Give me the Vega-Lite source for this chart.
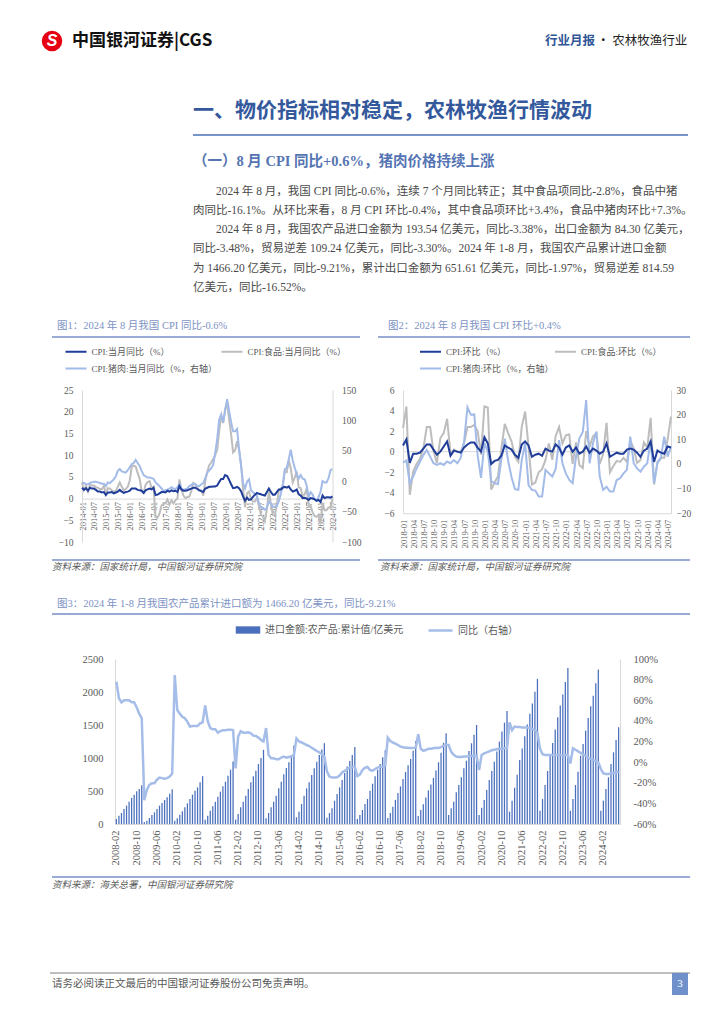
{
"$schema": "https://vega.github.io/schema/vega-lite/v6.json",
"padding": {"left": 0, "top": 30, "right": 0, "bottom": 0},
"background": "white",
"config": {"view": {"stroke": null}, "font": "Liberation Serif, Noto Sans CJK SC", "axis": {"grid": false, "ticks": false, "domainColor": "#d9d9d9", "labelColor": "#595959", "labelFont": "Liberation Serif"}},
"datasets": {
"c1": [
{"m":"2014-01","cpi":2.5,"food":3.7,"pork":-2},{"m":"2014-02","cpi":2.0,"food":2.0,"pork":-3},{"m":"2014-03","cpi":2.4,"food":2.9,"pork":-5},{"m":"2014-04","cpi":1.8,"food":1.6,"pork":-5},{"m":"2014-05","cpi":2.5,"food":3.1,"pork":-3},{"m":"2014-06","cpi":2.3,"food":3.0,"pork":-2},{"m":"2014-07","cpi":2.3,"food":3.0,"pork":-1},{"m":"2014-08","cpi":2.0,"food":2.6,"pork":-1},{"m":"2014-09","cpi":1.6,"food":2.5,"pork":-2},{"m":"2014-10","cpi":1.6,"food":2.2,"pork":-3},{"m":"2014-11","cpi":1.4,"food":2.2,"pork":-4},{"m":"2014-12","cpi":1.5,"food":2.9,"pork":-4},
{"m":"2015-01","cpi":0.8,"food":1.1,"pork":-8},{"m":"2015-02","cpi":1.4,"food":2.4,"pork":-2},{"m":"2015-03","cpi":1.4,"food":2.3,"pork":-3},{"m":"2015-04","cpi":1.5,"food":1.9,"pork":0},{"m":"2015-05","cpi":1.2,"food":1.6,"pork":3},{"m":"2015-06","cpi":1.4,"food":1.7,"pork":8},{"m":"2015-07","cpi":1.6,"food":2.7,"pork":17},{"m":"2015-08","cpi":2.0,"food":3.7,"pork":20},{"m":"2015-09","cpi":1.6,"food":2.7,"pork":16},{"m":"2015-10","cpi":1.3,"food":1.9,"pork":15},{"m":"2015-11","cpi":1.5,"food":2.2,"pork":14},{"m":"2015-12","cpi":1.6,"food":2.7,"pork":18},
{"m":"2016-01","cpi":1.8,"food":4.1,"pork":23},{"m":"2016-02","cpi":2.3,"food":7.3,"pork":28},{"m":"2016-03","cpi":2.3,"food":7.6,"pork":30},{"m":"2016-04","cpi":2.3,"food":7.4,"pork":35},{"m":"2016-05","cpi":2.0,"food":5.9,"pork":30},{"m":"2016-06","cpi":1.9,"food":4.6,"pork":25},{"m":"2016-07","cpi":1.8,"food":1.7,"pork":17},{"m":"2016-08","cpi":1.3,"food":1.3,"pork":10},{"m":"2016-09","cpi":1.9,"food":3.2,"pork":8},{"m":"2016-10","cpi":2.1,"food":3.8,"pork":6},{"m":"2016-11","cpi":2.3,"food":4.0,"pork":6},{"m":"2016-12","cpi":2.1,"food":2.4,"pork":5},
{"m":"2017-01","cpi":2.5,"food":2.7,"pork":4},{"m":"2017-02","cpi":0.8,"food":-4.3,"pork":-2},{"m":"2017-03","cpi":0.9,"food":-4.4,"pork":-5},{"m":"2017-04","cpi":1.2,"food":-3.5,"pork":-8},{"m":"2017-05","cpi":1.5,"food":-1.6,"pork":-12},{"m":"2017-06","cpi":1.5,"food":-1.2,"pork":-16},{"m":"2017-07","cpi":1.4,"food":-1.1,"pork":-15},{"m":"2017-08","cpi":1.8,"food":-0.2,"pork":-14},{"m":"2017-09","cpi":1.6,"food":-1.4,"pork":-12},{"m":"2017-10","cpi":1.9,"food":-0.4,"pork":-10},{"m":"2017-11","cpi":1.7,"food":-1.1,"pork":-12},{"m":"2017-12","cpi":1.8,"food":-0.4,"pork":-13},
{"m":"2018-01","cpi":1.5,"food":0.0,"pork":-10},{"m":"2018-02","cpi":2.9,"food":4.4,"pork":-5},{"m":"2018-03","cpi":2.1,"food":2.1,"pork":-12},{"m":"2018-04","cpi":1.8,"food":0.7,"pork":-14},{"m":"2018-05","cpi":1.8,"food":0.1,"pork":-13},{"m":"2018-06","cpi":1.9,"food":0.3,"pork":-12},{"m":"2018-07","cpi":2.1,"food":0.5,"pork":-8},{"m":"2018-08","cpi":2.3,"food":1.7,"pork":-6},{"m":"2018-09","cpi":2.5,"food":3.6,"pork":-4},{"m":"2018-10","cpi":2.5,"food":3.3,"pork":-5},{"m":"2018-11","cpi":2.2,"food":2.5,"pork":-8},{"m":"2018-12","cpi":1.9,"food":1.9,"pork":-8},
{"m":"2019-01","cpi":1.7,"food":1.9,"pork":-5},{"m":"2019-02","cpi":1.5,"food":0.7,"pork":-3},{"m":"2019-03","cpi":2.3,"food":4.1,"pork":5},{"m":"2019-04","cpi":2.5,"food":6.1,"pork":14},{"m":"2019-05","cpi":2.7,"food":7.7,"pork":18},{"m":"2019-06","cpi":2.7,"food":8.3,"pork":21},{"m":"2019-07","cpi":2.8,"food":9.1,"pork":27},{"m":"2019-08","cpi":2.8,"food":10.0,"pork":47},{"m":"2019-09","cpi":3.0,"food":11.2,"pork":69},{"m":"2019-10","cpi":3.8,"food":15.5,"pork":101},{"m":"2019-11","cpi":4.5,"food":19.1,"pork":110},{"m":"2019-12","cpi":4.5,"food":17.4,"pork":97},
{"m":"2020-01","cpi":5.4,"food":20.6,"pork":116},{"m":"2020-02","cpi":5.2,"food":21.9,"pork":135},{"m":"2020-03","cpi":4.3,"food":18.3,"pork":116},{"m":"2020-04","cpi":3.3,"food":14.8,"pork":97},{"m":"2020-05","cpi":2.4,"food":10.6,"pork":82},{"m":"2020-06","cpi":2.5,"food":11.1,"pork":82},{"m":"2020-07","cpi":2.7,"food":13.2,"pork":86},{"m":"2020-08","cpi":2.4,"food":11.2,"pork":53},{"m":"2020-09","cpi":1.7,"food":7.9,"pork":26},{"m":"2020-10","cpi":0.5,"food":2.2,"pork":-3},{"m":"2020-11","cpi":-0.5,"food":-2.0,"pork":-12},{"m":"2020-12","cpi":0.2,"food":1.2,"pork":-1},
{"m":"2021-01","cpi":-0.3,"food":1.6,"pork":3},{"m":"2021-02","cpi":-0.2,"food":-0.2,"pork":-15},{"m":"2021-03","cpi":0.4,"food":-0.7,"pork":-18},{"m":"2021-04","cpi":0.9,"food":-0.7,"pork":-21},{"m":"2021-05","cpi":1.3,"food":0.3,"pork":-24},{"m":"2021-06","cpi":1.1,"food":-1.7,"pork":-36},{"m":"2021-07","cpi":1.0,"food":-3.7,"pork":-43},{"m":"2021-08","cpi":0.8,"food":-4.1,"pork":-45},{"m":"2021-09","cpi":0.7,"food":-5.2,"pork":-47},{"m":"2021-10","cpi":1.5,"food":-2.4,"pork":-44},{"m":"2021-11","cpi":2.3,"food":1.6,"pork":-33},{"m":"2021-12","cpi":1.5,"food":-1.2,"pork":-37},
{"m":"2022-01","cpi":0.9,"food":-3.8,"pork":-42},{"m":"2022-02","cpi":0.9,"food":-3.9,"pork":-42},{"m":"2022-03","cpi":1.5,"food":-1.5,"pork":-41},{"m":"2022-04","cpi":2.1,"food":1.9,"pork":-33},{"m":"2022-05","cpi":2.1,"food":2.3,"pork":-21},{"m":"2022-06","cpi":2.5,"food":2.9,"pork":-6},{"m":"2022-07","cpi":2.7,"food":6.3,"pork":20},{"m":"2022-08","cpi":2.5,"food":6.1,"pork":22},{"m":"2022-09","cpi":2.8,"food":8.8,"pork":36},{"m":"2022-10","cpi":2.1,"food":7.0,"pork":52},{"m":"2022-11","cpi":1.6,"food":3.7,"pork":34},{"m":"2022-12","cpi":1.8,"food":4.8,"pork":22},
{"m":"2023-01","cpi":2.1,"food":6.2,"pork":12},{"m":"2023-02","cpi":1.0,"food":2.6,"pork":4},{"m":"2023-03","cpi":0.7,"food":2.4,"pork":10},{"m":"2023-04","cpi":0.1,"food":0.4,"pork":4},{"m":"2023-05","cpi":0.2,"food":1.0,"pork":3},{"m":"2023-06","cpi":0.0,"food":2.3,"pork":-7},{"m":"2023-07","cpi":-0.3,"food":-1.7,"pork":-26},{"m":"2023-08","cpi":0.1,"food":-1.7,"pork":-18},{"m":"2023-09","cpi":0.0,"food":-3.2,"pork":-22},{"m":"2023-10","cpi":-0.2,"food":-4.0,"pork":-30},{"m":"2023-11","cpi":-0.5,"food":-4.2,"pork":-32},{"m":"2023-12","cpi":-0.3,"food":-3.7,"pork":-26},
{"m":"2024-01","cpi":-0.8,"food":-5.9,"pork":-17},{"m":"2024-02","cpi":0.7,"food":-0.9,"pork":0},{"m":"2024-03","cpi":0.1,"food":-2.7,"pork":-2},{"m":"2024-04","cpi":0.3,"food":-2.7,"pork":-2},{"m":"2024-05","cpi":0.3,"food":-2.0,"pork":5},{"m":"2024-06","cpi":0.2,"food":-2.1,"pork":18},{"m":"2024-07","cpi":0.5,"food":0.0,"pork":20}
],
"c2": [
{"m":"2018-01","cpi":0.6,"food":2.3,"pork":0.5},{"m":"2018-02","cpi":1.2,"food":4.4,"pork":1.4},{"m":"2018-03","cpi":-1.1,"food":-4.2,"pork":-7.8},{"m":"2018-04","cpi":-0.2,"food":-1.9,"pork":-5.1},{"m":"2018-05","cpi":-0.2,"food":-1.2,"pork":-1.8},{"m":"2018-06","cpi":-0.1,"food":-0.7,"pork":0.9},{"m":"2018-07","cpi":0.3,"food":0.3,"pork":3.6},{"m":"2018-08","cpi":0.7,"food":2.4,"pork":5.7},{"m":"2018-09","cpi":0.7,"food":2.4,"pork":3.0},{"m":"2018-10","cpi":0.2,"food":0.0,"pork":0.3},{"m":"2018-11","cpi":-0.3,"food":-1.1,"pork":-0.4},{"m":"2018-12","cpi":0.0,"food":1.3,"pork":0.3},
{"m":"2019-01","cpi":0.5,"food":1.8,"pork":-0.4},{"m":"2019-02","cpi":1.0,"food":3.2,"pork":1.0},{"m":"2019-03","cpi":-0.4,"food":-0.2,"pork":0.3},{"m":"2019-04","cpi":0.1,"food":0.2,"pork":1.6},{"m":"2019-05","cpi":0.0,"food":0.0,"pork":0.3},{"m":"2019-06","cpi":-0.1,"food":0.0,"pork":2.4},{"m":"2019-07","cpi":0.4,"food":0.8,"pork":9.0},{"m":"2019-08","cpi":0.7,"food":2.4,"pork":23.0},{"m":"2019-09","cpi":0.9,"food":2.4,"pork":20.0},{"m":"2019-10","cpi":0.9,"food":2.6,"pork":20.1},{"m":"2019-11","cpi":0.4,"food":2.0,"pork":3.5},{"m":"2019-12","cpi":0.0,"food":-0.3,"pork":-5.6},
{"m":"2020-01","cpi":1.4,"food":4.4,"pork":8.5},{"m":"2020-02","cpi":0.8,"food":4.3,"pork":5.0},{"m":"2020-03","cpi":-1.2,"food":-3.7,"pork":-6.9},{"m":"2020-04","cpi":-0.9,"food":-3.0,"pork":-7.8},{"m":"2020-05","cpi":-0.8,"food":-2.4,"pork":-8.1},{"m":"2020-06","cpi":-0.4,"food":0.3,"pork":2.0},{"m":"2020-07","cpi":0.6,"food":2.7,"pork":10.3},{"m":"2020-08","cpi":0.4,"food":1.8,"pork":1.2},{"m":"2020-09","cpi":0.2,"food":1.0,"pork":-5.4},{"m":"2020-10","cpi":-0.3,"food":-0.5,"pork":-10.2},{"m":"2020-11","cpi":-0.6,"food":-1.0,"pork":-10.5},{"m":"2020-12","cpi":0.7,"food":2.4,"pork":1.6},
{"m":"2021-01","cpi":1.0,"food":3.9,"pork":8.4},{"m":"2021-02","cpi":0.6,"food":0.5,"pork":-8.6},{"m":"2021-03","cpi":-0.5,"food":-3.2,"pork":-10.5},{"m":"2021-04","cpi":-0.3,"food":-3.0,"pork":-10.8},{"m":"2021-05","cpi":-0.2,"food":-2.0,"pork":-13.2},{"m":"2021-06","cpi":-0.4,"food":-1.7,"pork":-13.2},{"m":"2021-07","cpi":0.3,"food":-0.8,"pork":-2.4},{"m":"2021-08","cpi":0.1,"food":0.8,"pork":-3.8},{"m":"2021-09","cpi":0.0,"food":-0.8,"pork":-5.1},{"m":"2021-10","cpi":0.7,"food":1.5,"pork":-2.0},{"m":"2021-11","cpi":0.4,"food":2.4,"pork":9.7},{"m":"2021-12","cpi":-0.3,"food":0.8,"pork":0.3},
{"m":"2022-01","cpi":0.4,"food":1.6,"pork":-3.8},{"m":"2022-02","cpi":0.6,"food":1.7,"pork":-6.5},{"m":"2022-03","cpi":0.0,"food":-1.2,"pork":-7.8},{"m":"2022-04","cpi":0.4,"food":0.9,"pork":3.0},{"m":"2022-05","cpi":-0.2,"food":-1.3,"pork":10.4},{"m":"2022-06","cpi":0.0,"food":-1.6,"pork":13.0},{"m":"2022-07","cpi":0.5,"food":2.0,"pork":25.9},{"m":"2022-08","cpi":-0.1,"food":0.5,"pork":0.3},{"m":"2022-09","cpi":0.3,"food":1.5,"pork":8.4},{"m":"2022-10","cpi":0.1,"food":1.8,"pork":13.1},{"m":"2022-11","cpi":-0.2,"food":-1.2,"pork":-5.1},{"m":"2022-12","cpi":0.0,"food":-0.2,"pork":-10.5},
{"m":"2023-01","cpi":0.8,"food":2.8,"pork":-9.2},{"m":"2023-02","cpi":-0.5,"food":-2.0,"pork":-11.2},{"m":"2023-03","cpi":-0.3,"food":-1.4,"pork":-11.2},{"m":"2023-04","cpi":-0.1,"food":-0.9,"pork":-6.5},{"m":"2023-05","cpi":-0.2,"food":-1.0,"pork":-5.8},{"m":"2023-06","cpi":-0.2,"food":-0.6,"pork":-3.8},{"m":"2023-07","cpi":0.2,"food":-1.0,"pork":-2.4},{"m":"2023-08","cpi":0.3,"food":1.1,"pork":11.1},{"m":"2023-09","cpi":0.2,"food":0.3,"pork":0.3},{"m":"2023-10","cpi":-0.1,"food":-1.1,"pork":-1.8},{"m":"2023-11","cpi":-0.5,"food":-0.8,"pork":-3.1},{"m":"2023-12","cpi":0.1,"food":0.9,"pork":-1.1},
{"m":"2024-01","cpi":0.3,"food":0.4,"pork":0.3},{"m":"2024-02","cpi":1.0,"food":3.3,"pork":9.7},{"m":"2024-03","cpi":-1.0,"food":-3.2,"pork":-7.8},{"m":"2024-04","cpi":0.1,"food":-1.0,"pork":0.3},{"m":"2024-05","cpi":-0.1,"food":-0.6,"pork":2.3},{"m":"2024-06","cpi":-0.2,"food":-0.6,"pork":11.1},{"m":"2024-07","cpi":0.5,"food":1.2,"pork":3.0},{"m":"2024-08","cpi":0.4,"food":3.4,"pork":7.0}
],
"c3": [
{"m":"2008-02","v":76,"y":78},{"m":"2008-03","v":126,"y":62},{"m":"2008-04","v":167,"y":58},{"m":"2008-05","v":227,"y":60},{"m":"2008-06","v":278,"y":60},{"m":"2008-07","v":338,"y":60},{"m":"2008-08","v":394,"y":58},{"m":"2008-09","v":444,"y":58},{"m":"2008-10","v":495,"y":53},{"m":"2008-11","v":530,"y":47},{"m":"2008-12","v":587,"y":42.5},
{"m":"2009-01","v":30,"y":-37},{"m":"2009-02","v":50,"y":-27},{"m":"2009-03","v":91,"y":-22},{"m":"2009-04","v":136,"y":-20.5},{"m":"2009-05","v":177,"y":-20.5},{"m":"2009-06","v":227,"y":-17},{"m":"2009-07","v":278,"y":-15},{"m":"2009-08","v":318,"y":-15.5},{"m":"2009-09","v":364,"y":-16},{"m":"2009-10","v":404,"y":-15.5},{"m":"2009-11","v":460,"y":-14},{"m":"2009-12","v":527,"y":-11},
{"m":"2010-01","v":50,"y":84.5},{"m":"2010-02","v":86,"y":50.5},{"m":"2010-03","v":141,"y":47},{"m":"2010-04","v":192,"y":44},{"m":"2010-05","v":253,"y":42.5},{"m":"2010-06","v":313,"y":39},{"m":"2010-07","v":379,"y":34.5},{"m":"2010-08","v":444,"y":35},{"m":"2010-09","v":505,"y":35},{"m":"2010-10","v":555,"y":35},{"m":"2010-11","v":631,"y":37.6},{"m":"2010-12","v":725,"y":38.6},
{"m":"2011-01","v":66,"y":55},{"m":"2011-02","v":126,"y":40},{"m":"2011-03","v":202,"y":33},{"m":"2011-04","v":268,"y":32},{"m":"2011-05","v":338,"y":32},{"m":"2011-06","v":414,"y":28.6},{"m":"2011-07","v":490,"y":30},{"m":"2011-08","v":571,"y":31},{"m":"2011-09","v":641,"y":31},{"m":"2011-10","v":732,"y":31.5},{"m":"2011-11","v":823,"y":31.5},{"m":"2011-12","v":948,"y":31},
{"m":"2012-01","v":66,"y":-6},{"m":"2012-02","v":152,"y":24.7},{"m":"2012-03","v":253,"y":30},{"m":"2012-04","v":338,"y":28.6},{"m":"2012-05","v":429,"y":28.6},{"m":"2012-06","v":530,"y":29},{"m":"2012-07","v":631,"y":28},{"m":"2012-08","v":722,"y":25.7},{"m":"2012-09","v":808,"y":25.4},{"m":"2012-10","v":909,"y":23.8},{"m":"2012-11","v":1000,"y":21.5},{"m":"2012-12","v":1124,"y":20},
{"m":"2013-01","v":86,"y":33},{"m":"2013-02","v":167,"y":7},{"m":"2013-03","v":253,"y":3.7},{"m":"2013-04","v":338,"y":3.7},{"m":"2013-05","v":429,"y":2.7},{"m":"2013-06","v":540,"y":2.7},{"m":"2013-07","v":641,"y":4.4},{"m":"2013-08","v":752,"y":5.4},{"m":"2013-09","v":848,"y":4.4},{"m":"2013-10","v":934,"y":5},{"m":"2013-11","v":1045,"y":5.4},{"m":"2013-12","v":1189,"y":7},
{"m":"2014-01","v":101,"y":23},{"m":"2014-02","v":187,"y":20},{"m":"2014-03","v":303,"y":19},{"m":"2014-04","v":429,"y":18},{"m":"2014-05","v":540,"y":16.6},{"m":"2014-06","v":631,"y":15.6},{"m":"2014-07","v":742,"y":14},{"m":"2014-08","v":843,"y":12.4},{"m":"2014-09","v":944,"y":10.8},{"m":"2014-10","v":1045,"y":9.5},{"m":"2014-11","v":1130,"y":7.6},{"m":"2014-12","v":1225,"y":5.4},
{"m":"2015-01","v":95,"y":-9},{"m":"2015-02","v":167,"y":-14},{"m":"2015-03","v":237,"y":-15},{"m":"2015-04","v":353,"y":-15},{"m":"2015-05","v":454,"y":-14.7},{"m":"2015-06","v":555,"y":-13},{"m":"2015-07","v":666,"y":-10},{"m":"2015-08","v":772,"y":-8.5},{"m":"2015-09","v":873,"y":-6.7},{"m":"2015-10","v":954,"y":-5.4},{"m":"2015-11","v":1045,"y":-5},{"m":"2015-12","v":1168,"y":-4.4},
{"m":"2016-01","v":76,"y":-13.5},{"m":"2016-02","v":136,"y":-12},{"m":"2016-03","v":212,"y":-7.7},{"m":"2016-04","v":303,"y":-5.4},{"m":"2016-05","v":379,"y":-4.7},{"m":"2016-06","v":505,"y":-7.7},{"m":"2016-07","v":611,"y":-8.3},{"m":"2016-08","v":722,"y":-6.7},{"m":"2016-09","v":823,"y":-5.4},{"m":"2016-10","v":910,"y":-4.4},{"m":"2016-11","v":1010,"y":-4.4},{"m":"2016-12","v":1116,"y":-3.4},
{"m":"2017-01","v":90,"y":23.8},{"m":"2017-02","v":165,"y":20.5},{"m":"2017-03","v":260,"y":19},{"m":"2017-04","v":365,"y":18},{"m":"2017-05","v":470,"y":16.6},{"m":"2017-06","v":570,"y":15},{"m":"2017-07","v":680,"y":14.5},{"m":"2017-08","v":790,"y":14},{"m":"2017-09","v":890,"y":14},{"m":"2017-10","v":985,"y":13.7},{"m":"2017-11","v":1110,"y":13.7},{"m":"2017-12","v":1258,"y":14},
{"m":"2018-01","v":120,"y":27},{"m":"2018-02","v":212,"y":13},{"m":"2018-03","v":300,"y":11},{"m":"2018-04","v":400,"y":11.7},{"m":"2018-05","v":510,"y":13},{"m":"2018-06","v":600,"y":13},{"m":"2018-07","v":700,"y":13.5},{"m":"2018-08","v":810,"y":14},{"m":"2018-09","v":935,"y":13.7},{"m":"2018-10","v":1080,"y":14.5},{"m":"2018-11","v":1230,"y":16},{"m":"2018-12","v":1374,"y":16.6},
{"m":"2019-01","v":136,"y":16.6},{"m":"2019-02","v":238,"y":10},{"m":"2019-03","v":339,"y":7},{"m":"2019-04","v":480,"y":5.5},{"m":"2019-05","v":591,"y":5},{"m":"2019-06","v":708,"y":5},{"m":"2019-07","v":844,"y":5.5},{"m":"2019-08","v":960,"y":5.5},{"m":"2019-09","v":1106,"y":5.5},{"m":"2019-10","v":1223,"y":6},{"m":"2019-11","v":1354,"y":6},{"m":"2019-12","v":1500,"y":6.3},
{"m":"2020-01","v":136,"y":-7.7},{"m":"2020-02","v":248,"y":7},{"m":"2020-03","v":364,"y":8.5},{"m":"2020-04","v":515,"y":9.5},{"m":"2020-05","v":667,"y":10.5},{"m":"2020-06","v":803,"y":11.5},{"m":"2020-07","v":945,"y":12},{"m":"2020-08","v":1097,"y":12.5},{"m":"2020-09","v":1248,"y":13},{"m":"2020-10","v":1400,"y":13},{"m":"2020-11","v":1536,"y":13.4},{"m":"2020-12","v":1712,"y":13.5},
{"m":"2021-01","v":187,"y":38.6},{"m":"2021-02","v":352,"y":31},{"m":"2021-03","v":550,"y":34.5},{"m":"2021-04","v":748,"y":34},{"m":"2021-05","v":968,"y":34},{"m":"2021-06","v":1144,"y":33.5},{"m":"2021-07","v":1331,"y":33.5},{"m":"2021-08","v":1507,"y":33.5},{"m":"2021-09","v":1672,"y":33},{"m":"2021-10","v":1826,"y":32},{"m":"2021-11","v":2002,"y":31},{"m":"2021-12","v":2200,"y":28.5},
{"m":"2022-01","v":201,"y":13},{"m":"2022-02","v":378,"y":7.6},{"m":"2022-03","v":591,"y":7},{"m":"2022-04","v":803,"y":7},{"m":"2022-05","v":1040,"y":7},{"m":"2022-06","v":1229,"y":7},{"m":"2022-07","v":1430,"y":7},{"m":"2022-08","v":1619,"y":7},{"m":"2022-09","v":1796,"y":6.8},{"m":"2022-10","v":1961,"y":6.5},{"m":"2022-11","v":2150,"y":6.8},{"m":"2022-12","v":2363,"y":7},
{"m":"2023-01","v":200,"y":-1.3},{"m":"2023-02","v":379,"y":13.4},{"m":"2023-03","v":591,"y":12},{"m":"2023-04","v":793,"y":10.5},{"m":"2023-05","v":1035,"y":9},{"m":"2023-06","v":1212,"y":7.5},{"m":"2023-07","v":1414,"y":6},{"m":"2023-08","v":1606,"y":4.5},{"m":"2023-09","v":1783,"y":3},{"m":"2023-10","v":1944,"y":2},{"m":"2023-11","v":2131,"y":1},{"m":"2023-12","v":2342,"y":0},
{"m":"2024-01","v":200,"y":-6.7},{"m":"2024-02","v":354,"y":-11},{"m":"2024-03","v":530,"y":-11.5},{"m":"2024-04","v":707,"y":-11.5},{"m":"2024-05","v":909,"y":-11},{"m":"2024-06","v":1086,"y":-10.5},{"m":"2024-07","v":1273,"y":-10},{"m":"2024-08","v":1466,"y":-9.2}
]
},
"spacing": 0,
"bounds": "flush",
"vconcat": [
{"hconcat": [
  {"width": 38, "height": 20, "data": {"values": []}, "mark": "point"},
  {"width": 28, "height": 20, "data": {"values": [{"t": "S"}]}, "layer": [
    {"mark": {"type": "point", "shape": "circle", "filled": true, "color": "#e60012", "size": 420, "opacity": 1}},
    {"mark": {"type": "text", "color": "white", "fontSize": 16, "fontWeight": "bold", "fontStyle": "italic", "font": "Liberation Sans"}, "encoding": {"text": {"field": "t"}}}
  ]},
  {"width": 6, "height": 20, "data": {"values": []}, "mark": "point"},
  {"width": 473, "height": 20, "data": {"values": [{"t": "中国银河证券|CGS"}]}, "mark": {"type": "text", "align": "left", "baseline": "middle", "font": "Noto Sans CJK SC", "fontSize": 17, "fontWeight": "bold", "color": "#111111"}, "encoding": {"text": {"field": "t"}, "x": {"datum": 0, "type": "quantitative", "scale": {"domain": [0, 1]}, "axis": null}}},
  {"width": 52, "height": 20, "data": {"values": [{"t": "行业月报"}]}, "mark": {"type": "text", "align": "left", "baseline": "middle", "font": "Noto Sans CJK SC", "fontSize": 12.5, "fontWeight": "bold", "color": "#2f5597"}, "encoding": {"text": {"field": "t"}, "x": {"datum": 0, "type": "quantitative", "scale": {"domain": [0, 1]}, "axis": null}}},
  {"width": 93, "height": 20, "data": {"values": [{"t": "· 农林牧渔行业"}]}, "mark": {"type": "text", "align": "left", "baseline": "middle", "font": "Noto Sans CJK SC", "fontSize": 12.5, "color": "#222222"}, "encoding": {"text": {"field": "t"}, "x": {"datum": 0, "type": "quantitative", "scale": {"domain": [0, 1]}, "axis": null}}}
], "spacing": 0, "bounds": "flush"},
{"width": 1, "height": 66, "data": {"values": []}, "mark": "point"},
{"hconcat": [
  {"width": 193, "height": 28, "data": {"values": []}, "mark": "point"},
  {"width": 495, "height": 28, "data": {"values": [{"t": "一、物价指标相对稳定，农林牧渔行情波动"}]}, "mark": {"type": "text", "align": "left", "baseline": "middle", "font": "Noto Sans CJK SC", "fontSize": 21, "fontWeight": "bold", "color": "#34589c"}, "encoding": {"text": {"field": "t"}, "x": {"datum": 0, "type": "quantitative", "scale": {"domain": [0, 1]}, "axis": null}}}
], "spacing": 0, "bounds": "flush"},
{"width": 1, "height": 36.5, "data": {"values": []}, "mark": "point"},
{"hconcat": [
  {"width": 193, "height": 1, "data": {"values": []}, "mark": "point"},
  {"width": 495, "height": 1, "data": {"values": [{}]}, "mark": {"type": "rule", "color": "#4a70b6", "strokeWidth": 1.5}, "encoding": {"y": {"datum": 0, "type": "quantitative", "scale": {"domain": [0, 1]}, "axis": null}}}
], "spacing": 0, "bounds": "flush"},
{"width": 1, "height": 17.5, "data": {"values": []}, "mark": "point"},
{"hconcat": [
  {"width": 193, "height": 20, "data": {"values": []}, "mark": "point"},
  {"width": 495, "height": 20, "data": {"values": [{"t": "（一）8 月 CPI 同比+0.6%，猪肉价格持续上涨"}]}, "mark": {"type": "text", "align": "left", "baseline": "middle", "fontSize": 14.5, "fontWeight": "bold", "color": "#5574b3"}, "encoding": {"text": {"field": "t"}, "x": {"datum": 0, "type": "quantitative", "scale": {"domain": [0, 1]}, "axis": null}}}
], "spacing": 0, "bounds": "flush"},
{"width": 1, "height": 29.4, "data": {"values": []}, "mark": "point"},
{"hconcat": [
  {"width": 193, "height": 115.6, "data": {"values": []}, "mark": "point"},
  {"width": 495, "height": 115.6, "data": {"values": [
    {"i": 1, "t": "\u200b\u3000\u30002024 年 8 月，我国 CPI 同比-0.6%，连续 7 个月同比转正；其中食品项同比-2.8%，食品中猪"},
    {"i": 2, "t": "肉同比-16.1%。从环比来看，8 月 CPI 环比-0.4%，其中食品项环比+3.4%，食品中猪肉环比+7.3%。"},
    {"i": 3, "t": "\u200b\u3000\u30002024 年 8 月，我国农产品进口金额为 193.54 亿美元，同比-3.38%，出口金额为 84.30 亿美元，"},
    {"i": 4, "t": "同比-3.48%，贸易逆差 109.24 亿美元，同比-3.30%。2024 年 1-8 月，我国农产品累计进口金额"},
    {"i": 5, "t": "为 1466.20 亿美元，同比-9.21%，累计出口金额为 651.61 亿美元，同比-1.97%，贸易逆差 814.59"},
    {"i": 6, "t": "亿美元，同比-16.52%。"}
  ]}, "mark": {"type": "text", "align": "left", "baseline": "middle", "fontSize": 11.5, "color": "#4a4a4a"}, "encoding": {"text": {"field": "t"}, "y": {"field": "i", "type": "ordinal", "axis": null}, "x": {"datum": 0, "type": "quantitative", "scale": {"domain": [0, 1]}, "axis": null}}}
], "spacing": 0, "bounds": "flush"},
{"width": 1, "height": 135.6, "data": {"values": []}, "mark": "point"},
{"hconcat": [
  {"width": 57, "height": 16, "data": {"values": []}, "mark": "point"},
  {"width": 331, "height": 16, "data": {"values": [{"t": "图1：2024 年 8 月我国 CPI 同比-0.6%"}]}, "mark": {"type": "text", "align": "left", "baseline": "middle", "fontSize": 10.5, "color": "#7d92c4"}, "encoding": {"text": {"field": "t"}, "x": {"datum": 0, "type": "quantitative", "scale": {"domain": [0, 1]}, "axis": null}}},
  {"width": 302, "height": 16, "data": {"values": [{"t": "图2：2024 年 8 月我国 CPI 环比+0.4%"}]}, "mark": {"type": "text", "align": "left", "baseline": "middle", "fontSize": 10.5, "color": "#7d92c4"}, "encoding": {"text": {"field": "t"}, "x": {"datum": 0, "type": "quantitative", "scale": {"domain": [0, 1]}, "axis": null}}}
], "spacing": 0, "bounds": "flush"},
{"width": 1, "height": 18, "data": {"values": []}, "mark": "point"},
{"hconcat": [
  {"width": 52, "height": 1, "data": {"values": []}, "mark": "point"},
  {"width": 308, "height": 1, "data": {"values": [{}]}, "mark": {"type": "rule", "color": "#9aabd3", "strokeWidth": 2}, "encoding": {"y": {"datum": 0, "type": "quantitative", "scale": {"domain": [0, 1]}, "axis": null}}},
  {"width": 18, "height": 1, "data": {"values": []}, "mark": "point"},
  {"width": 312, "height": 1, "data": {"values": [{}]}, "mark": {"type": "rule", "color": "#9aabd3", "strokeWidth": 2}, "encoding": {"y": {"datum": 0, "type": "quantitative", "scale": {"domain": [0, 1]}, "axis": null}}}
], "spacing": 0, "bounds": "flush"},
{"width": 1, "height": 54, "data": {"values": []}, "mark": "point"},
{"hconcat": [
  {"width": 81.5, "height": 152, "data": {"values": []}, "mark": "point"},
  {"width": 250.5, "height": 152, "data": {"name": "c1"},
   "layer": [
    {"mark": {"type": "line", "strokeWidth": 2}, "encoding": {
      "x": {"field": "m", "type": "ordinal", "scale": {"type": "point", "padding": 0}, "axis": {"values": ["2014-01","2014-07","2015-01","2015-07","2016-01","2016-07","2017-01","2017-07","2018-01","2018-07","2019-01","2019-07","2020-01","2020-07","2021-01","2021-07","2022-01","2022-07","2023-01","2023-07","2024-01","2024-07"], "labelAngle": -90, "offset": -43.4, "labelFontSize": 8.5, "labelPadding": 3, "title": null, "labelOverlap": false}},
      "y": {"field": "food", "type": "quantitative", "scale": {"domain": [-10, 25]}, "axis": {"values": [-10,-5,0,5,10,15,20,25], "labelFontSize": 9.5, "labelPadding": 9, "title": null}},
      "color": {"datum": "CPI:食品:当月同比（%）", "type": "nominal", "scale": {"domain": ["CPI:当月同比（%）", "CPI:食品:当月同比（%）", "CPI:猪肉:当月同比（%，右轴）"], "range": ["#1f3d99", "#bdbdbd", "#a3bbe8"]}, "legend": {"orient": "none", "legendX": -17.5, "legendY": -50, "columns": 2, "direction": "horizontal", "symbolType": "stroke", "symbolSize": 441, "symbolStrokeWidth": 2, "labelFontSize": 9, "labelColor": "#595959", "title": null, "columnPadding": 0, "rowPadding": -4}}
    }},
    {"mark": {"type": "line", "strokeWidth": 2}, "encoding": {
      "x": {"field": "m", "type": "ordinal", "scale": {"type": "point", "padding": 0}},
      "y": {"field": "pork", "type": "quantitative", "scale": {"domain": [-100, 150]}, "axis": {"orient": "right", "values": [-100,-50,0,50,100,150], "labelFontSize": 9.5, "labelPadding": 9, "title": null}},
      "color": {"datum": "CPI:猪肉:当月同比（%，右轴）", "type": "nominal"}
    }},
    {"mark": {"type": "line", "strokeWidth": 2}, "encoding": {
      "x": {"field": "m", "type": "ordinal", "scale": {"type": "point", "padding": 0}},
      "y": {"field": "cpi", "type": "quantitative", "scale": {"domain": [-10, 25]}, "axis": null},
      "color": {"datum": "CPI:当月同比（%）", "type": "nominal"}
    }}
   ],
   "resolve": {"scale": {"y": "independent"}}
  },
  {"width": 70, "height": 152, "data": {"values": []}, "mark": "point"},
  {"width": 268, "height": 123.3, "data": {"name": "c2"},
   "layer": [
    {"data": {"values": [{}]}, "mark": {"type": "rule", "color": "#d9d9d9", "strokeWidth": 1}, "encoding": {"y": {"datum": 0, "type": "quantitative", "scale": {"domain": [-6, 6]}, "axis": null}}},
    {"mark": {"type": "line", "strokeWidth": 2}, "encoding": {
      "x": {"field": "m", "type": "ordinal", "scale": {"type": "point", "padding": 0}, "axis": {"values": ["2018-01","2018-04","2018-07","2018-10","2019-01","2019-04","2019-07","2019-10","2020-01","2020-04","2020-07","2020-10","2021-01","2021-04","2021-07","2021-10","2022-01","2022-04","2022-07","2022-10","2023-01","2023-04","2023-07","2023-10","2024-01","2024-04","2024-07"], "labelAngle": -90, "labelFontSize": 8.5, "labelPadding": 6, "title": null, "labelOverlap": false}},
      "y": {"field": "food", "type": "quantitative", "scale": {"domain": [-6, 6]}, "axis": {"values": [-6,-4,-2,0,2,4,6], "labelFontSize": 9.5, "labelPadding": 9, "title": null}},
      "color": {"datum": "CPI:食品:环比（%）", "type": "nominal", "scale": {"domain": ["CPI:环比（%）", "CPI:食品:环比（%）", "CPI:猪肉:环比（%，右轴）"], "range": ["#1f3d99", "#bdbdbd", "#a3bbe8"]}, "legend": {"orient": "none", "legendX": 16, "legendY": -50, "columns": 2, "direction": "horizontal", "symbolType": "stroke", "symbolSize": 441, "symbolStrokeWidth": 2, "labelFontSize": 9, "labelColor": "#595959", "title": null, "columnPadding": -16, "rowPadding": -4}}
    }},
    {"mark": {"type": "line", "strokeWidth": 2}, "encoding": {
      "x": {"field": "m", "type": "ordinal", "scale": {"type": "point", "padding": 0}},
      "y": {"field": "pork", "type": "quantitative", "scale": {"domain": [-20, 30]}, "axis": {"orient": "right", "values": [-20,-10,0,10,20,30], "labelFontSize": 9.5, "labelPadding": 5, "title": null}},
      "color": {"datum": "CPI:猪肉:环比（%，右轴）", "type": "nominal"}
    }},
    {"mark": {"type": "line", "strokeWidth": 2}, "encoding": {
      "x": {"field": "m", "type": "ordinal", "scale": {"type": "point", "padding": 0}},
      "y": {"field": "cpi", "type": "quantitative", "scale": {"domain": [-6, 6]}, "axis": null},
      "color": {"datum": "CPI:环比（%）", "type": "nominal"}
    }}
   ],
   "resolve": {"scale": {"y": "independent"}}
  }
], "spacing": 0, "bounds": "flush", "resolve": {"scale": {"color": "independent"}, "legend": {"color": "independent"}}},
{"width": 1, "height": 169, "data": {"values": []}, "mark": "point"},
{"hconcat": [
  {"width": 52, "height": 1, "data": {"values": []}, "mark": "point"},
  {"width": 308, "height": 1, "data": {"values": [{}]}, "mark": {"type": "rule", "color": "#9aabd3", "strokeWidth": 2}, "encoding": {"y": {"datum": 0, "type": "quantitative", "scale": {"domain": [0, 1]}, "axis": null}}},
  {"width": 18, "height": 1, "data": {"values": []}, "mark": "point"},
  {"width": 312, "height": 1, "data": {"values": [{}]}, "mark": {"type": "rule", "color": "#9aabd3", "strokeWidth": 2}, "encoding": {"y": {"datum": 0, "type": "quantitative", "scale": {"domain": [0, 1]}, "axis": null}}}
], "spacing": 0, "bounds": "flush"},
{"width": 1, "height": 1, "data": {"values": []}, "mark": "point"},
{"hconcat": [
  {"width": 52, "height": 14, "data": {"values": []}, "mark": "point"},
  {"width": 328, "height": 14, "data": {"values": [{"t": "资料来源：国家统计局，中国银河证券研究院"}]}, "mark": {"type": "text", "align": "left", "baseline": "middle", "fontSize": 9.5, "fontStyle": "italic", "color": "#595959"}, "encoding": {"text": {"field": "t"}, "x": {"datum": 0, "type": "quantitative", "scale": {"domain": [0, 1]}, "axis": null}}},
  {"width": 310, "height": 14, "data": {"values": [{"t": "资料来源：国家统计局，中国银河证券研究院"}]}, "mark": {"type": "text", "align": "left", "baseline": "middle", "fontSize": 9.5, "fontStyle": "italic", "color": "#595959"}, "encoding": {"text": {"field": "t"}, "x": {"datum": 0, "type": "quantitative", "scale": {"domain": [0, 1]}, "axis": null}}}
], "spacing": 0, "bounds": "flush"},
{"width": 1, "height": 37, "data": {"values": []}, "mark": "point"},
{"hconcat": [
  {"width": 57, "height": 14, "data": {"values": []}, "mark": "point"},
  {"width": 633, "height": 14, "data": {"values": [{"t": "图3：2024 年 1-8 月我国农产品累计进口额为 1466.20 亿美元，同比-9.21%"}]}, "mark": {"type": "text", "align": "left", "baseline": "middle", "fontSize": 10.5, "color": "#7d92c4"}, "encoding": {"text": {"field": "t"}, "x": {"datum": 0, "type": "quantitative", "scale": {"domain": [0, 1]}, "axis": null}}}
], "spacing": 0, "bounds": "flush"},
{"width": 1, "height": 16, "data": {"values": []}, "mark": "point"},
{"hconcat": [
  {"width": 52, "height": 1, "data": {"values": []}, "mark": "point"},
  {"width": 638, "height": 1, "data": {"values": [{}]}, "mark": {"type": "rule", "color": "#9aabd3", "strokeWidth": 2}, "encoding": {"y": {"datum": 0, "type": "quantitative", "scale": {"domain": [0, 1]}, "axis": null}}}
], "spacing": 0, "bounds": "flush"},
{"width": 1, "height": 45.7, "data": {"values": []}, "mark": "point"},
{"hconcat": [
  {"width": 115, "height": 165, "data": {"values": []}, "mark": "point"},
  {"width": 505, "height": 165, "data": {"name": "c3"},
   "layer": [
    {"mark": {"type": "bar"}, "encoding": {
      "x": {"field": "m", "type": "ordinal", "scale": {"paddingInner": 0.5, "paddingOuter": 0.3}, "axis": {"values": ["2008-02","2008-10","2009-06","2010-02","2010-10","2011-06","2012-02","2012-10","2013-06","2014-02","2014-10","2015-06","2016-02","2016-10","2017-06","2018-02","2018-10","2019-06","2020-02","2020-10","2021-06","2022-02","2022-10","2023-06","2024-02"], "labelAngle": -90, "labelFontSize": 10.5, "labelPadding": 6, "title": null, "labelOverlap": false}},
      "y": {"field": "v", "type": "quantitative", "scale": {"domain": [0, 2500]}, "axis": {"values": [0,500,1000,1500,2000,2500], "format": "d", "labelFontSize": 10.5, "labelPadding": 12, "title": null}},
      "fill": {"datum": "进口金额:农产品:累计值/亿美元", "type": "nominal", "scale": {"range": ["#4a70bd"]}, "legend": {"orient": "none", "legendX": 235, "legendY": 586, "symbolType": "M-1,-0.3H1V0.3H-1Z", "symbolSize": 600, "labelFontSize": 10, "labelColor": "#595959", "title": null}}
    }},
    {"mark": {"type": "line", "strokeWidth": 2.5}, "encoding": {
      "x": {"field": "m", "type": "ordinal"},
      "y": {"field": "y", "type": "quantitative", "scale": {"domain": [-60, 100]}, "axis": {"orient": "right", "values": [-60,-40,-20,0,20,40,60,80,100], "labelExpr": "datum.value + '%'", "labelFontSize": 10.5, "labelPadding": 13, "title": null}},
      "stroke": {"datum": "同比（右轴）", "type": "nominal", "scale": {"range": ["#a5bde8"]}, "legend": {"orient": "none", "legendX": 427, "legendY": 586, "symbolType": "stroke", "symbolSize": 576, "symbolStrokeWidth": 2.5, "labelFontSize": 10, "labelColor": "#595959", "title": null}}
    }}
   ],
   "resolve": {"scale": {"y": "independent"}}
  }
], "spacing": 0, "bounds": "flush"},
{"width": 1, "height": 216.3, "data": {"values": []}, "mark": "point"},
{"hconcat": [
  {"width": 52, "height": 1, "data": {"values": []}, "mark": "point"},
  {"width": 638, "height": 1, "data": {"values": [{}]}, "mark": {"type": "rule", "color": "#9aabd3", "strokeWidth": 2}, "encoding": {"y": {"datum": 0, "type": "quantitative", "scale": {"domain": [0, 1]}, "axis": null}}}
], "spacing": 0, "bounds": "flush"},
{"width": 1, "height": 1, "data": {"values": []}, "mark": "point"},
{"hconcat": [
  {"width": 52, "height": 16, "data": {"values": []}, "mark": "point"},
  {"width": 600, "height": 16, "data": {"values": [{"t": "资料来源：海关总署，中国银河证券研究院"}]}, "mark": {"type": "text", "align": "left", "baseline": "middle", "fontSize": 9.5, "fontStyle": "italic", "color": "#595959"}, "encoding": {"text": {"field": "t"}, "x": {"datum": 0, "type": "quantitative", "scale": {"domain": [0, 1]}, "axis": null}}}
], "spacing": 0, "bounds": "flush"},
{"width": 1, "height": 95, "data": {"values": []}, "mark": "point"},
{"hconcat": [
  {"width": 50, "height": 1, "data": {"values": []}, "mark": "point"},
  {"width": 640, "height": 1, "data": {"values": [{}]}, "mark": {"type": "rule", "color": "#7f7f7f", "strokeWidth": 1}, "encoding": {"y": {"datum": 0, "type": "quantitative", "scale": {"domain": [0, 1]}, "axis": null}}}
], "spacing": 0, "bounds": "flush"},
{"width": 1, "height": 1, "data": {"values": []}, "mark": "point"},
{"hconcat": [
  {"width": 52, "height": 22, "data": {"values": []}, "mark": "point"},
  {"width": 620, "height": 22, "data": {"values": [{"t": "请务必阅读正文最后的中国银河证券股份公司免责声明。"}]}, "mark": {"type": "text", "align": "left", "baseline": "middle", "fontSize": 10.5, "color": "#595959"}, "encoding": {"text": {"field": "t"}, "x": {"datum": 0, "type": "quantitative", "scale": {"domain": [0, 1]}, "axis": null}}},
  {"width": 16, "height": 22, "view": {"fill": "#7090cc"}, "data": {"values": [{"t": "3"}]}, "mark": {"type": "text", "color": "white", "fontSize": 11}, "encoding": {"text": {"field": "t"}}}
], "spacing": 0, "bounds": "flush"}
]
}
